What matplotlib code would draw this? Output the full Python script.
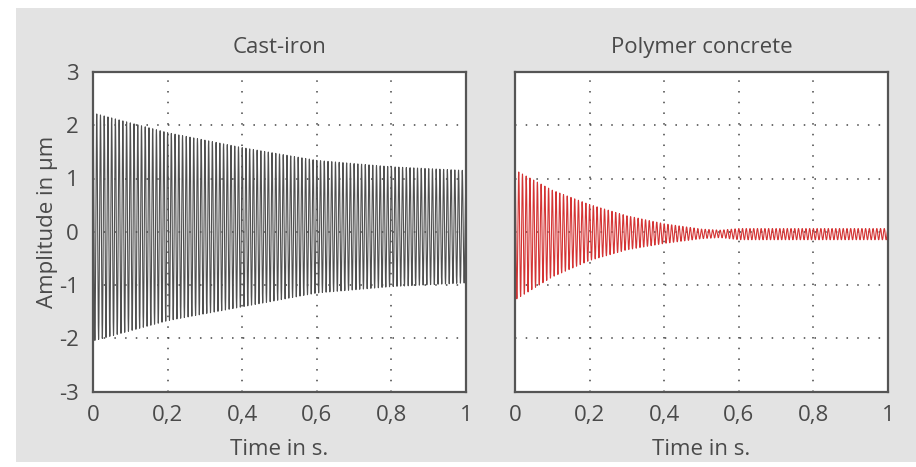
import numpy as np
import matplotlib.pyplot as plt
from matplotlib.patches import Rectangle

# envelope values (time in s, amplitude in um)
iron_t = [0.0, 0.2, 0.4, 0.6, 0.8, 1.0]
iron_upper = [2.23, 1.86, 1.58, 1.34, 1.22, 1.15]
iron_lower = [-2.05, -1.67, -1.41, -1.15, -1.03, -0.96]

poly_t = [0.0, 0.1, 0.2, 0.3, 0.4, 0.5, 0.55, 0.6, 0.8, 1.0]
poly_upper = [1.16, 0.78, 0.51, 0.30, 0.15, 0.05, 0.03, 0.06, 0.06, 0.06]
poly_lower = [-1.28, -0.85, -0.54, -0.34, -0.22, -0.13, -0.11, -0.15, -0.15, -0.15]

freq = 100  # cycles per second, counted on the picture

titles = ['Cast-iron', 'Polymer concrete']
xticks = [0, 0.2, 0.4, 0.6, 0.8, 1]
xticklabels = ['0', '0,2', '0,4', '0,6', '0,8', '1']
yticks = [-3, -2, -1, 0, 1, 2, 3]
yticklabels = ['-3', '-2', '-1', '0', '1', '2', '3']

plt.rcParams['font.family'] = ['Open Sans', 'DejaVu Sans']
plt.rcParams['axes.unicode_minus'] = False
txt = '#4a4a4a'


def signal(t_env, up, lo):
    t = np.linspace(0, 1, 20001)
    hi = np.interp(t, t_env, up)
    low = np.interp(t, t_env, lo)
    mid = (hi + low) / 2
    amp = (hi - low) / 2
    return t, mid + amp * np.cos(2 * np.pi * freq * t)


fig = plt.figure(figsize=(9.16, 4.67), dpi=100, facecolor='white')
fig.patches.append(Rectangle((16 / 916, 5 / 467), 1, 1 - 13 / 467, transform=fig.transFigure,
                             facecolor='#e3e3e3', edgecolor='none', zorder=-10))

ax1 = fig.add_axes([93 / 916, 1 - 391.5 / 467, 373 / 916, 319.5 / 467])
ax2 = fig.add_axes([515 / 916, 1 - 391.5 / 467, 373 / 916, 319.5 / 467])

t1, y1 = signal(iron_t, iron_upper, iron_lower)
t2, y2 = signal(poly_t, poly_upper, poly_lower)
ax1.plot(t1, y1, color='#505050', lw=0.8)
ax2.plot(t2, y2, color='#d43434', lw=0.8)

for ax, title in zip([ax1, ax2], titles):
    ax.set_facecolor('white')
    ax.set_xlim(0, 1)
    ax.set_ylim(-3, 3)
    ax.set_xticks(xticks)
    ax.set_xticklabels(xticklabels)
    ax.set_yticks(yticks)
    ax.set_yticklabels(yticklabels)
    ax.grid(True, color='#444444', linestyle=(0, (1, 6)), lw=1.1)
    ax.tick_params(length=0, labelsize=16, colors=txt, pad=10)
    for s in ax.spines.values():
        s.set_color('#555555')
        s.set_linewidth(1.6)
    ax.set_title(title, fontsize=16, color=txt, pad=14)
    ax.set_xlabel('Time in s.', fontsize=16, color=txt, labelpad=9)

ax1.set_ylabel('Amplitude in µm', fontsize=16, color=txt)
ax1.yaxis.set_label_coords(-0.094, 0.53)
ax2.tick_params(labelleft=False)

fig.savefig('out.png', dpi=100, facecolor=fig.get_facecolor())
